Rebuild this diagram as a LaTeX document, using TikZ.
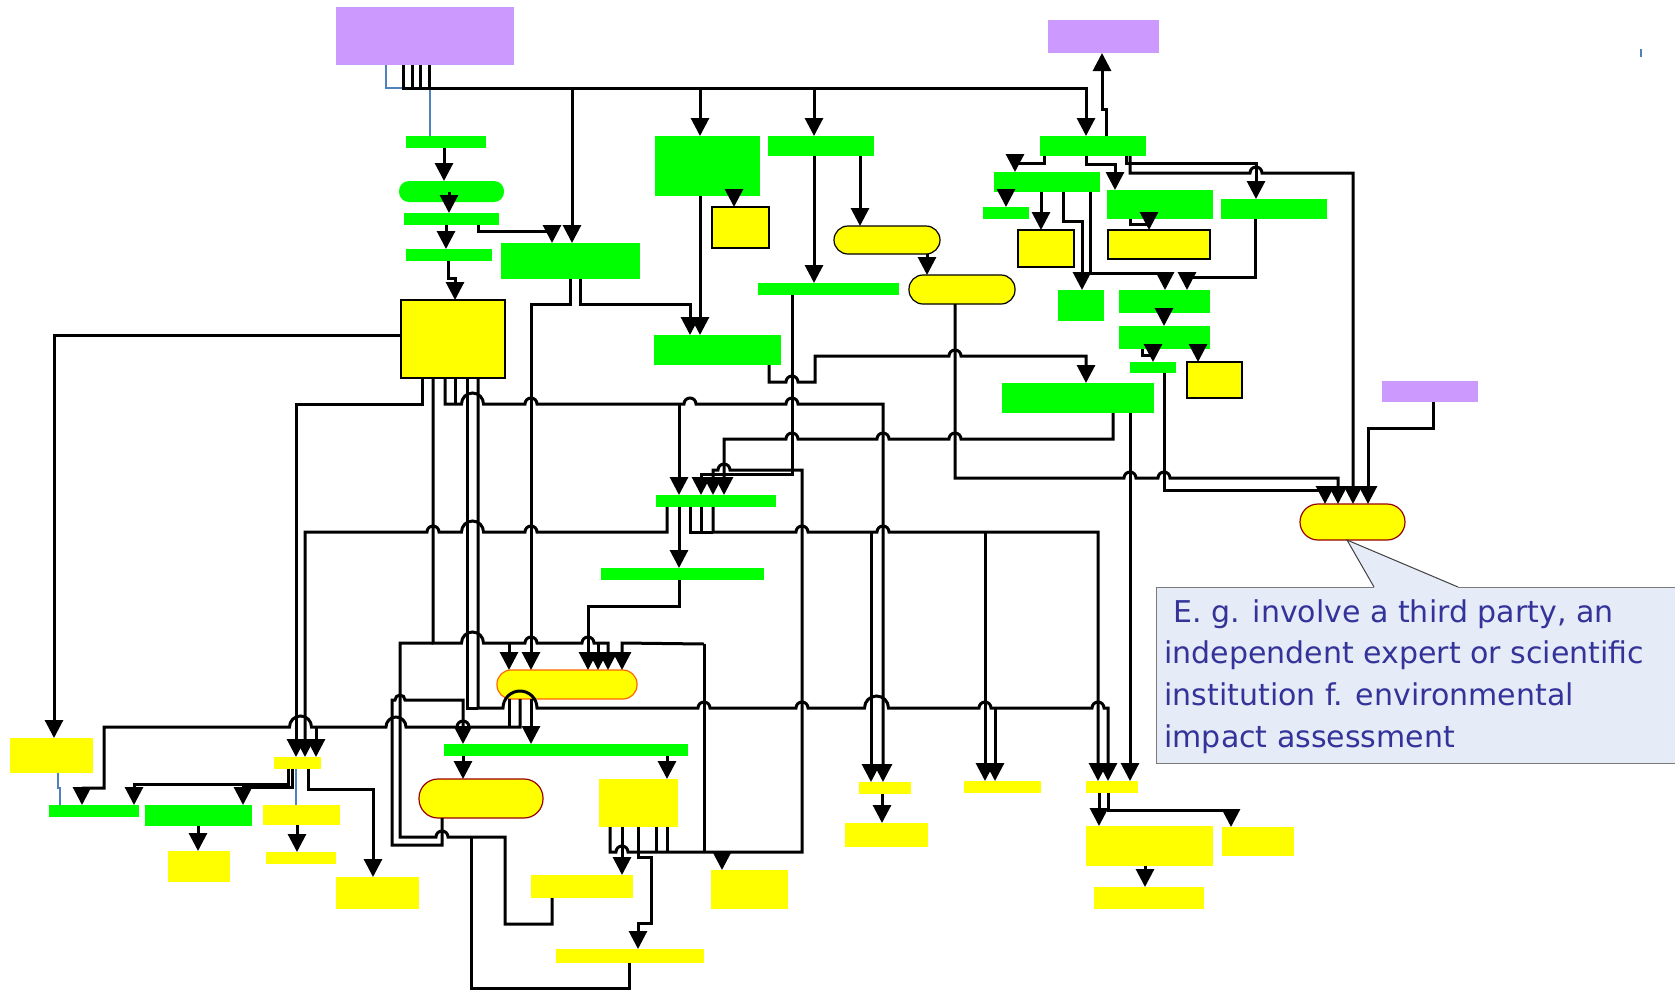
\documentclass[tikz,border=0pt]{standalone}
\usepackage{fontspec}
\setmainfont{DejaVu Sans}
\usetikzlibrary{arrows.meta,fit}
\definecolor{grn}{HTML}{00FF00}
\definecolor{ylw}{HTML}{FFFF00}
\definecolor{prp}{HTML}{CC99FF}
\definecolor{drd}{HTML}{990000}
\definecolor{org}{HTML}{FF6600}
\definecolor{wireblue}{HTML}{4F81BD}
\definecolor{notefill}{HTML}{E6ECF7}
\definecolor{notegray}{HTML}{7A7A7A}
\definecolor{notedark}{HTML}{404040}
\definecolor{notetext}{HTML}{333399}
% small jump-over arcs for crossing wires
\newcommand\archR[1]{arc[start angle=180,end angle=360,radius=#1]}
\newcommand\archL[1]{arc[start angle=0,end angle=-180,radius=#1]}
\tikzset{
  box/.style={rectangle, inner sep=0pt, outer sep=0pt},
  gbox/.style={box, fill=grn},
  ybox/.style={box, fill=ylw},
  ylined/.style={ybox, draw=black, line width=0.6pt},
  pbox/.style={box, fill=prp},
  wire/.style={line width=1.5pt},
  arr/.style={wire, -{Triangle[width=9pt,length=9pt]}},
  bluewire/.style={line width=0.6pt, draw=wireblue},
  notetxt/.style={inner sep=0pt, text=notetext, font=\fontsize{15pt}{20pt}\selectfont},
}
\begin{document}
\begin{tikzpicture}[x=0.5pt,y=-0.5pt]
\useasboundingbox (0,0) rectangle (1675,991);

% ---------- boxes ----------
\node[pbox,fit={(336,7)(514,65)}] (P1) {};
\node[pbox,fit={(1048,20)(1159,53)}] (P2) {};
\node[pbox,fit={(1382,381)(1478,402)}] (P3) {};

\node[gbox,fit={(406,136)(486,148)}] (G1) {};
\node[gbox,rounded corners=5pt,fit={(399,181)(504,202)}] (G2) {};
\node[gbox,fit={(404,213)(499,225)}] (G3) {};
\node[gbox,fit={(406,249)(492,261)}] (G4) {};
\node[gbox,fit={(501,243)(640,279)}] (G5) {};
\node[gbox,fit={(655,136)(760,196)}] (G6) {};
\node[gbox,fit={(768,136)(874,156)}] (G7) {};
\node[gbox,fit={(758,283)(899,295)}] (G8) {};
\node[gbox,fit={(654,335)(781,365)}] (G9) {};
\node[gbox,fit={(1040,136)(1146,156)}] (G10) {};
\node[gbox,fit={(994,172)(1100,192)}] (G11) {};
\node[gbox,fit={(983,207)(1029,219)}] (G12) {};
\node[gbox,fit={(1058,290)(1104,321)}] (G13) {};
\node[gbox,fit={(1119,290)(1210,313)}] (G14) {};
\node[gbox,fit={(1107,190)(1213,219)}] (G15) {};
\node[gbox,fit={(1221,199)(1327,219)}] (G16) {};
\node[gbox,fit={(1119,326)(1210,349)}] (G17) {};
\node[gbox,fit={(1130,362)(1176,373)}] (G18) {};
\node[gbox,fit={(1002,383)(1154,413)}] (G19) {};
\node[gbox,fit={(444,744)(688,756)}] (G20) {};
\node[gbox,fit={(656,495)(776,507)}] (G21) {};
\node[gbox,fit={(601,568)(764,580)}] (G22) {};
\node[gbox,fit={(49,805)(139,817)}] (GLa) {};
\node[gbox,fit={(145,805)(252,826)}] (GLb) {};

\node[ylined,fit={(401,300)(505,378)}] (Y1) {};
\node[ylined,fit={(712,207)(769,248)}] (Y2) {};
\node[ylined,rounded corners=7pt,fit={(834,226)(940,254)}] (Y3) {};
\node[ylined,rounded corners=7pt,fit={(909,275)(1015,304)}] (Y4) {};
\node[ylined,fit={(1018,230)(1074,267)}] (Y5) {};
\node[ylined,fit={(1108,230)(1210,259)}] (Y6) {};
\node[ylined,fit={(1187,362)(1242,398)}] (Y7) {};
\node[ybox,draw=drd,line width=0.6pt,rounded corners=9pt,fit={(1300,504)(1405,540)}] (Y8) {};
\node[ybox,draw=org,line width=0.6pt,rounded corners=7pt,fit={(497,670)(637,699)}] (Y9) {};
\node[ybox,fit={(599,779)(678,827)}] (Y10) {};
\node[ybox,fit={(531,875)(633,898)}] (Y11) {};
\node[ybox,fit={(556,949)(704,963)}] (Y12) {};
\node[ybox,fit={(711,870)(788,909)}] (Y13) {};
\node[ybox,draw=drd,line width=0.6pt,rounded corners=9.5pt,fit={(419,779)(543,818)}] (Y14) {};
\node[ybox,fit={(859,782)(911,794)}] (YMa) {};
\node[ybox,fit={(845,823)(928,847)}] (YMb) {};
\node[ybox,fit={(964,781)(1041,793)}] (YMc) {};
\node[ybox,fit={(1086,781)(1138,793)}] (YRa) {};
\node[ybox,fit={(1086,826)(1213,866)}] (YRb) {};
\node[ybox,fit={(1222,827)(1294,856)}] (YRc) {};
\node[ybox,fit={(1094,887)(1204,909)}] (YRd) {};
\node[ybox,fit={(10,738)(93,773)}] (YLa) {};
\node[ybox,fit={(274,757)(321,769)}] (YLb) {};
\node[ybox,fit={(263,805)(340,825)}] (YLc) {};
\node[ybox,fit={(168,851)(230,882)}] (YLd) {};
\node[ybox,fit={(266,852)(336,864)}] (YLe) {};
\node[ybox,fit={(336,877)(419,909)}] (YLf) {};

% ---------- note ----------
\fill[notefill]
  (1156,587) -- (1374,587) -- (Y8.south -| 1347,0) -- (1458,587) -- (1677,587)
  -- (1677,763) -- (1156,763) -- cycle;
\draw[notegray, line width=0.5pt] (1374,587) -- (1156,587) -- (1156,763) -- (1677,763);
\draw[notegray, line width=0.5pt] (1458,587) -- (1677,587);
\draw[notedark, line width=0.5pt] (1374,587) -- (Y8.south -| 1347,0) -- (1458,587);
\node[notetxt, anchor=base west] (n1) at (1173,622) {E. g. involve a third party, an};
\node[notetxt, anchor=base west] (n2) at (1164,663) {independent expert or scientific};
\node[notetxt, anchor=base west] (n3) at (1164,705) {institution f. environmental};
\node[notetxt, anchor=base west] (n4) at (1164,747) {impact assessment};

% ---------- top part ----------
\draw[bluewire] (P1.south -| 386,0) -- (386,88) -- (430,88) -- (G1.north -| 430,0);
\draw[bluewire] (1641,49) -- (1641,57);
\draw[arr] (P1.south -| 403,0) |- (1086,88) -- (G10.north -| 1086,0);
\draw[arr] (P1.south -| 412,0) |- (572,88) -- (G5.north -| 572,0);
\draw[arr] (P1.south -| 420,0) |- (700,88) -- (G6.north -| 700,0);
\draw[arr] (P1.south -| 429,0) |- (814,88) -- (G7.north -| 814,0);

\draw[arr] (G1.south -| 444,0) -- (G2.north -| 444,0);
\draw[arr] (G2.center -| 449,0) -- (G3.north -| 449,0);
\draw[arr] (G3.south -| 446,0) -- (G4.north -| 446,0);
\draw[arr] (G3.south -| 478,0) |- (552,231) -- (G5.north -| 552,0);
\draw[arr] (G4.south -| 448,0) |- (455,278) -- (Y1.north -| 455,0);
\draw[arr] (G5.south -| 580,0) |- (690,304) -- (G9.north -| 690,0);
\draw[arr] (G5.south -| 570,0) |- (531,304) -- (Y9.north -| 531,0);
\draw[arr] (G6.south -| 734,0) -- (Y2.north -| 734,0);
\draw[arr] (G6.south -| 700,0) -- (G9.north -| 700,0);
\draw[arr] (G7.south -| 814,0) -- (G8.north -| 814,0);
\draw[arr] (G7.south -| 860,0) -- (Y3.north -| 860,0);
\draw[arr] (Y3.south -| 927,0) -- (Y4.north -| 927,0);

\draw[arr] (G10.north -| 1106,0) -- (1106,109) -- (1102,109) -- (P2.south -| 1102,0);
\draw[arr] (G10.south -| 1044,0) |- (1015,163) -- (G11.north -| 1015,0);
\draw[arr] (G10.south -| 1086,0) |- (1115,164) -- (G15.north -| 1115,0);
\draw[arr] (G10.south -| 1126,0) |- (1256,163) -- (G16.north -| 1256,0);
\draw[arr] (G10.south -| 1130,0) -- (1130,173) -- (1250,173) \archR{6} -- (1353,173) -- (Y8.north -| 1353,0);
\draw[arr] (G11.south -| 1006,0) -- (G12.north -| 1006,0);
\draw[arr] (G11.south -| 1041,0) -- (Y5.north -| 1041,0);
\draw[arr] (G11.south -| 1063,0) |- (1082,221) -- (G13.north -| 1082,0);
\draw[arr] (G11.south -| 1090,0) |- (1165,273) -- (G14.north -| 1165,0);
\draw[arr] (G15.south -| 1130,0) |- (1149,224) -- (Y6.north -| 1149,0);
\draw[arr] (G16.south -| 1255,0) |- (1187,277) -- (G14.north -| 1187,0);
\draw[arr] (G14.south -| 1164,0) -- (G17.north -| 1164,0);
\draw[arr] (G17.south -| 1142,0) |- (1153,355) -- (G18.north -| 1153,0);
\draw[arr] (G17.south -| 1198,0) -- (Y7.north -| 1198,0);
\draw[arr] (P3.south -| 1433,0) |- (1368,428) -- (Y8.north -| 1368,0);

% ---------- middle part ----------
\draw[arr] (G9.south -| 769,0) -- (769,382) -- (786,382) \archR{6} -- (815,382) -- (815,356)
  -- (949,356) \archR{6} -- (1086,356) -- (G19.north -| 1086,0);
\draw[arr] (G8.south -| 792,0) -- (792,474) -- (701,474) -- (G21.north -| 701,0);
\draw[arr] (Y4.south -| 955,0) -- (955,478) -- (1124,478) \archR{6} -- (1158,478) \archR{6}
  -- (1338,478) -- (Y8.north -| 1338,0);
\draw[arr] (G18.south -| 1164,0) -- (1164,490) -- (1325,490) -- (Y8.north -| 1325,0);
\draw[arr] (G19.south -| 1113,0) -- (1113,439) -- (961,439) \archL{6} -- (889,439) \archL{6}
  -- (798,439) \archL{6} -- (724,439) -- (G21.north -| 724,0);
\draw[arr] (G19.south -| 1130,0) -- (YRa.north -| 1130,0);

\draw[arr] (Y1.west |- 0,335) -- (54,335) -- (YLa.north -| 54,0);
\draw[arr] (Y1.south -| 422,0) -- (422,404) -- (296,404) -- (YLb.north -| 296,0);
\draw[wire] (Y1.south -| 455,0) -- (455,404);
\draw[arr] (Y1.south -| 445,0) -- (445,404) -- (461.5,404) \archR{11} -- (525,404) \archR{6}
  -- (684,404) \archR{6} -- (786,404) \archR{6} -- (883,404) -- (YMa.north -| 883,0);
\coordinate (j404) at (679,404);
\draw[arr] (j404) -- (G21.north -| 679,0);

\draw[arr] (G21.south -| 679,0) -- (G22.north -| 679,0);
\draw[arr] (G22.south -| 679,0) |- (588,606) -- (Y9.north -| 588,0);
\draw[arr] (G21.south -| 667,0) -- (667,532) -- (537,532) \archL{6} -- (483.5,532) \archL{11}
  -- (439,532) \archL{6} -- (305,532) -- (YLb.north -| 305,0);
\draw[wire] (G21.south -| 690,0) -- (690,532) -- (713,532);
\draw[wire] (G21.south -| 701,0) -- (701,532);
\draw[arr] (G21.south -| 713,0) -- (713,532) -- (796,532) \archR{6} -- (877,532) \archR{6}
  -- (1098,532) -- (YRa.north -| 1098,0);
\coordinate (j532a) at (871,532);
\coordinate (j532b) at (985,532);
\draw[arr] (j532a) -- (YMa.north -| 871,0);
\draw[arr] (j532b) -- (YMc.north -| 985,0);

\draw[arr] (Y1.south -| 433,0) -- (433,643) -- (461.5,643) \archR{11} -- (525,643) \archR{6}
  -- (582,643) \archR{6} -- (608,643) -- (Y9.north -| 608,0);
\coordinate (j643) at (433,643);
\draw[wire] (j643) -- (400,643) -- (400,837) -- (436,837) \archR{6} -- (505,837) -- (505,924)
  -- (552,924) -- (Y11.south -| 552,0);
\coordinate (j837) at (471,837);
\draw[wire] (j837) -- (471,988) -- (629,988) -- (Y12.south -| 629,0);
\foreach \xx in {509,598}
  \draw[arr] (\xx,643) -- (Y9.north -| \xx,0);
\draw[arr] (Y10.north -| 704,0) ++(0,-135) coordinate (j852top) -- (622,643) -- (Y9.north -| 622,0);

\draw[wire] (Y1.south -| 467,0) -- (467,708) -- (478,708);
\draw[arr] (Y1.south -| 478,0) -- (478,708) -- (503,708) \archR{17} -- (698,708) \archR{6}
  -- (796,708) \archR{6} -- (864.5,708) \archR{12} -- (979,708) \archR{6} -- (1092,708) \archR{6}
  -- (1108,708) -- (YRa.north -| 1108,0);
\coordinate (j708) at (995,708);
\draw[arr] (j708) -- (YMc.north -| 995,0);

% ---------- lower part ----------
\draw[wire] (Y9.south -| 509,0) -- (509,727);
\draw[arr] (Y9.south -| 520,0) -- (520,727) -- (469,727) \archL{6} -- (406,727) \archL{10}
  -- (311.5,727) \archL{11} -- (104,727) -- (104,788) -- (82,788) -- (GLa.north -| 82,0);
\coordinate (j727) at (316,727);
\draw[arr] (j727) -- (YLb.north -| 316,0);
\draw[arr] (Y9.south -| 531,0) -- (G20.north -| 531,0);
\draw[arr] (Y14.south -| 442,0) -- (442,845) -- (392,845) -- (392,700) -- (395,700) \archR{5}
  -- (463,700) -- (G20.north -| 463,0);
\draw[arr] (G20.south -| 463,0) -- (Y14.north -| 463,0);
\draw[arr] (G20.south -| 667,0) -- (Y10.north -| 667,0);

\draw[arr] (Y10.south -| 610,0) -- (610,852) -- (616,852) \archR{6} -- (802,852) -- (802,470)
  -- (730,470) \archL{6} -- (713,470) -- (G21.north -| 713,0);
\draw[wire] (Y10.south -| 656,0) -- (656,852);
\draw[wire] (Y10.south -| 667,0) -- (667,852);
\draw[wire] (j852top) -- (704,852);
\draw[arr] (Y10.south -| 622,0) -- (Y11.north -| 622,0);
\draw[arr] (Y10.south -| 638,0) -- (638,857) -- (651,857) -- (651,923) -- (638,923) -- (Y12.north -| 638,0);
\coordinate (j852) at (722,852);
\draw[arr] (j852) -- (Y13.north -| 722,0);

\draw[arr] (YMa.south -| 882,0) -- (YMb.north -| 882,0);
\draw[arr] (YRa.south -| 1099,0) -- (YRb.north -| 1099,0);
\draw[arr] (YRa.south -| 1108,0) |- (1231,810) -- (YRc.north -| 1231,0);
\draw[arr] (YRb.south -| 1145,0) -- (YRd.north -| 1145,0);

\draw[arr] (YLb.south -| 288,0) |- (134,784) -- (GLa.north -| 134,0);
\draw[arr] (YLb.south -| 292,0) |- (243,787) -- (GLb.north -| 243,0);
\draw[arr] (YLb.south -| 308,0) |- (373,789) -- (YLf.north -| 373,0);
\draw[bluewire] (YLb.south -| 296,0) -- (YLc.north -| 296,0);
\draw[bluewire] (YLa.south -| 58,0) -- (58,788) -- (60,788) -- (GLa.north -| 60,0);
\draw[arr] (GLb.south -| 198,0) -- (YLd.north -| 198,0);
\draw[arr] (YLc.south -| 297,0) -- (YLe.north -| 297,0);
\end{tikzpicture}
\end{document}
